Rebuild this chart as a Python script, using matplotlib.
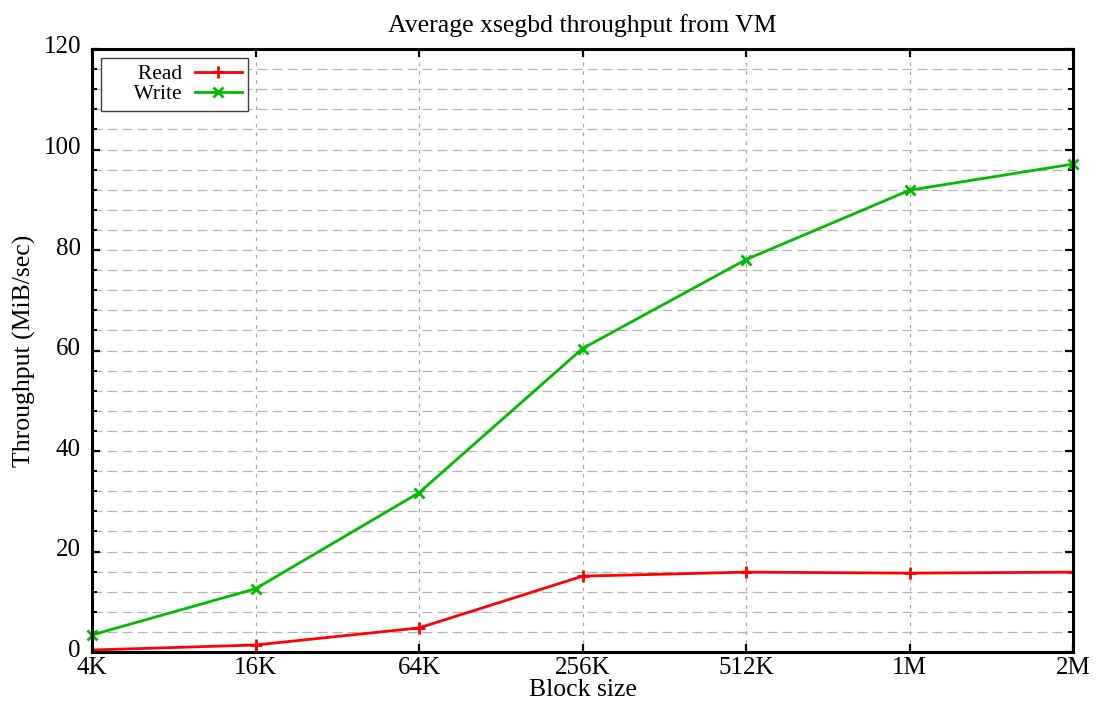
import numpy as np
import matplotlib.pyplot as plt
from matplotlib.ticker import MultipleLocator
from matplotlib.transforms import ScaledTranslation

plt.rcParams['font.family'] = ['Liberation Serif', 'DejaVu Serif']

block_sizes = ['4K', '16K', '64K', '256K', '512K', '1M', '2M']
read_mib = [0.4, 1.4, 4.8, 15.1, 15.9, 15.7, 15.9]
write_mib = [3.4, 12.6, 31.7, 60.4, 78.1, 91.9, 97.1]

x = np.arange(len(block_sizes))

fig = plt.figure(figsize=(11.01, 7.03), dpi=100)
ax = fig.add_axes([0.0836, 0.0725, 0.891, 0.8578])

# gnuplot-like grid: dashed at every minor y tick, dotted at each block size
ax.set_axisbelow(True)
ax.yaxis.set_major_locator(MultipleLocator(20))
ax.yaxis.set_minor_locator(MultipleLocator(4))
ax.grid(axis='y', which='both', color='#b4b4b4', linestyle=(0, (8, 4)), linewidth=0.9)
ax.grid(axis='x', which='major', color='#a8a8a8', linestyle=(0, (3, 4)), linewidth=0.9)

ax.plot(x, read_mib, color='#ff0000', linewidth=2, marker='+', ms=8, mew=2,
        label='     Read', zorder=3)
ax.plot(x, write_mib, color='#00bb00', linewidth=2, marker='x', ms=7, mew=2,
        label='     Write', clip_on=False, zorder=3)

ax.set_xlim(0, 6)
ax.set_ylim(0, 120)
ax.set_xticks(x)
ax.set_xticklabels(block_sizes)

for side in ['top', 'bottom', 'left', 'right']:
    ax.spines[side].set_linewidth(2.2)
    ax.spines[side].set_zorder(4)

ax.tick_params(axis='both', which='major', direction='in', length=6, width=1.6,
               top=True, right=True, labelsize=18)
ax.tick_params(axis='x', which='major', pad=3.5)
ax.tick_params(axis='y', which='major', pad=8)
ax.tick_params(axis='y', which='minor', direction='in', length=3.5, width=1.4, right=True)

# y labels sit a little above their ticks
shift_up = ScaledTranslation(0, 4 / 100, fig.dpi_scale_trans)
for lbl in ax.get_yticklabels():
    lbl.set_transform(lbl.get_transform() + shift_up)

ax.set_title('Average xsegbd throughput from VM', fontsize=18.5, pad=12)
ax.set_xlabel('Block size', fontsize=18.5, labelpad=0)
ax.set_ylabel('Throughput (MiB/sec)', fontsize=18.5, labelpad=5)

leg = ax.legend(loc='upper left', fontsize=15.5, markerfirst=False, fancybox=False,
                edgecolor='#404040', framealpha=1, handlelength=2.2, handletextpad=0.6,
                alignment='right', borderaxespad=0.4, labelspacing=0.0, borderpad=0.3)
leg.get_frame().set_linewidth(1.0)

fig.savefig('out.png', dpi=100)
